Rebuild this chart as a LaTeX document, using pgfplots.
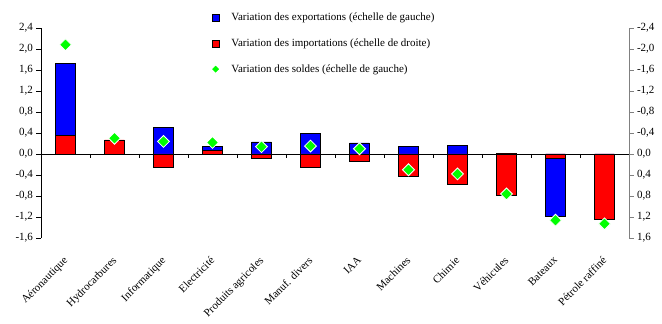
\documentclass[border=0pt]{standalone}
\usepackage{pgfplots}
\pgfplotsset{compat=1.18}
\usepackage{pgfplotstable}
\usepackage{fontspec}
\setmainfont{Liberation Serif}
\definecolor{xblue}{RGB}{0,0,255}
\definecolor{xred}{RGB}{255,0,0}
\definecolor{xgreen}{RGB}{0,255,0}

\pgfplotsset{
  boxlegend/.style={legend image code/.code={\draw[##1] (0pt,-3.5pt) rectangle (7pt,3.5pt); \path (17pt,0pt);}},
  dialegend/.style={legend image code/.code={\path[##1] plot[mark size=2.2pt, mark options={rotate=45, fill=xgreen, draw=xgreen}] coordinates {(3.5pt,0pt)}; \path (17pt,0pt);}},
}

% exp: exports (left scale), imp: imports (right scale, reversed), sol: balance (left scale)
\pgfplotstableread{
x exp imp sol
0 1.72 -0.35 2.08
1 0.00 -0.27 0.30
2 0.50 0.25 0.24
3 0.14 -0.07 0.22
4 0.23 0.085 0.14
5 0.39 0.26 0.15
6 0.21 0.13 0.10
7 0.14 0.43 -0.30
8 0.17 0.57 -0.38
9 0.01 0.79 -0.76
10 -1.18 0.085 -1.26
11 0.00 1.24 -1.33
}\data

\begin{document}
\begin{tikzpicture}
\begin{axis}[name=main,
  width=588pt, height=210pt, scale only axis,
  xmin=-0.5, xmax=11.5, ymin=-1.6, ymax=2.4,
  axis y line*=left, axis x line*=middle,
  hide obscured x ticks=false, hide obscured y ticks=false,
  ytick={-1.6,-1.2,-0.8,-0.4,0,0.4,0.8,1.2,1.6,2.0,2.4},
  yticklabel style={/pgf/number format/.cd, fixed, fixed zerofill, precision=1, use comma, assume math mode=true},
  xtick=\empty,
  tick align=outside, major tick length=4.5pt,
  every tick/.style={black, line width=0.8pt},
  axis line style={line width=0.9pt},
  tick label style={font=\fontsize{11}{13}\selectfont},
  clip=false,
  legend style={at={(rel axis cs:0.285,1.09)}, anchor=north west, draw=none, fill=none,
    font=\fontsize{11}{13}\selectfont, row sep=12.5pt, legend cell align=left},
]
\addplot[ybar, bar width=0.4, bar shift=0pt, fill=xblue, draw=black, line width=0.6pt, boxlegend]
  table[x=x, y=exp] {\data};
\addlegendentry{Variation des exportations (échelle de gauche)}
\addplot[ybar, bar width=0.4, bar shift=0pt, fill=xred, draw=black, line width=0.6pt, boxlegend]
  table[x=x, y expr=-\thisrow{imp}] {\data};
\addlegendentry{Variation des importations (échelle de droite)}
\addplot[only marks, mark=square*, mark size=4.2pt, mark options={rotate=45, fill=xgreen, draw=white, line width=0.8pt}, dialegend]
  table[x=x, y=sol] {\data};
\addlegendentry{Variation des soldes (échelle de gauche)}
% category separator ticks on the zero line
\pgfplotsinvokeforeach{0.5,1.5,2.5,3.5,4.5,5.5,6.5,7.5,8.5,9.5,10.5}{
  \draw[black, line width=0.8pt] (axis cs:#1,0) -- ++(0pt,-4.5pt);
}
\end{axis}
\begin{axis}[
  width=588pt, height=210pt, scale only axis,
  xmin=-0.5, xmax=11.5, ymin=-1.6, ymax=2.4,
  axis y line*=right, axis x line*=bottom,
  x axis line style={draw=none},
  y axis line style={draw=gray, line width=1pt},
  ytick={-1.6,-1.2,-0.8,-0.4,0,0.4,0.8,1.2,1.6,2.0,2.4},
  yticklabels={{1,6},{1,2},{0,8},{0,4},{0,0},{-0,4},{-0,8},{-1,2},{-1,6},{-2,0},{-2,4}},
  ytick style={draw=gray, line width=0.8pt},
  tick align=outside, major tick length=4.5pt,
  xtick={0,1,2,3,4,5,6,7,8,9,10,11},
  xticklabels={Aéronautique, Hydrocarbures, Informatique, Electricité, Produits agricoles, Manuf. divers, IAA, Machines, Chimie, Véhicules, Bateaux, Pétrole raffiné},
  xtick style={draw=none},
  tick label style={font=\fontsize{11}{13}\selectfont},
  xticklabel style={rotate=45, anchor=north east, xshift=-8pt, yshift=-4pt},
]
\end{axis}
\path (main.south west) ++(-41pt,-76pt);
\path (main.north east) ++(33pt,28pt);
\end{tikzpicture}
\end{document}
